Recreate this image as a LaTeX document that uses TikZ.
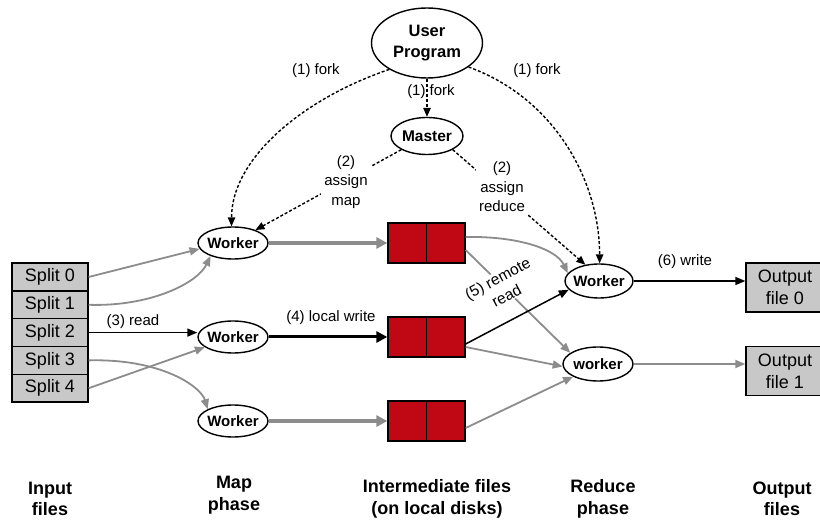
\documentclass[tikz,border=0pt]{standalone}
\usepackage{fontspec}
\setmainfont{Liberation Sans}
\usetikzlibrary{arrows.meta,shapes.geometric}
\definecolor{lgray}{RGB}{140,140,140}
\definecolor{boxgray}{RGB}{200,200,200}
\definecolor{diskred}{RGB}{192,8,20}
\begin{document}
\begin{tikzpicture}[x=1pt,y=-1pt,
  lbl/.style={font=\fontsize{15}{19.5}\selectfont, align=center, inner sep=1pt},
  wlbl/.style={lbl, fill=white, inner sep=3pt},
  proc/.style={ellipse, draw, line width=1.4pt, minimum width=70pt, minimum height=32pt,
    inner sep=0pt, font=\bfseries\fontsize{15}{18}\selectfont},
  splitbox/.style={rectangle, draw, line width=1.3pt, fill=boxgray, minimum width=76pt,
    minimum height=27.8pt, inner sep=0pt, font=\fontsize{18}{20}\selectfont},
  outbox/.style={rectangle, draw, line width=1.3pt, fill=boxgray, minimum width=78pt,
    minimum height=49pt, inner sep=0pt, align=center, font=\fontsize{18}{22}\selectfont},
  disk/.style={rectangle, draw, line width=1.3pt, fill=diskred, minimum width=77pt,
    minimum height=40pt, inner sep=0pt},
  phase/.style={align=center, font=\bfseries\fontsize{18}{21.5}\selectfont},
  garrow/.style={draw=lgray, line width=1.8pt, -{Triangle[length=10pt,width=8pt]}},
  barrow/.style={draw=black, line width=1.5pt, -{Triangle[length=10pt,width=8pt]}},
  thickg/.style={draw=lgray, line width=3.5pt, -{Triangle[length=11pt,width=11pt]}},
  thickb/.style={draw=black, line width=3pt, -{Triangle[length=11pt,width=11pt]}},
  dasharrow/.style={draw=black, line width=1.4pt, dash pattern=on 3pt off 2pt,
    -{Triangle[length=9pt,width=7.5pt]}}
]
\useasboundingbox (0,0) rectangle (820,521);
\clip (0,0) rectangle (820,521);

% top
\node[proc, minimum width=111pt, minimum height=70pt, align=center,
  font=\bfseries\fontsize{16.5}{21}\selectfont] (up) at (427,43) {User\\Program};
\node[proc, minimum width=72pt, minimum height=37pt,
  font=\bfseries\fontsize{15.5}{18}\selectfont] (m) at (427,136) {Master};

% input splits
\node[splitbox] (s0) at (50,277) {Split 0};
\node[splitbox] (s1) at (50,304.8) {Split 1};
\node[splitbox] (s2) at (50,332.6) {Split 2};
\node[splitbox] (s3) at (50,360.4) {Split 3};
\node[splitbox] (s4) at (50,388.2) {Split 4};

% map workers
\node[proc] (w1) at (233,243) {\makebox[0pt]{Worker}};
\node[proc] (w2) at (233,337) {\makebox[0pt]{Worker}};
\node[proc] (w3) at (233,421) {\makebox[0pt]{Worker}};

% intermediate files
\node[disk] (d1) at (426.5,243) {};
\node[disk] (d2) at (426.5,337) {};
\node[disk] (d3) at (426.5,421) {};
\draw[line width=1.3pt] (d1.north) -- (d1.south);
\draw[line width=1.3pt] (d2.north) -- (d2.south);
\draw[line width=1.3pt] (d3.north) -- (d3.south);

% reduce workers
\node[proc, minimum width=68pt, minimum height=34pt] (r1) at (599,281) {\makebox[0pt]{Worker}};
\node[proc, minimum width=70pt, minimum height=34pt] (r2) at (598,364) {\makebox[0pt]{worker}};

% output files
\node[outbox] (o0) at (785,287.5) {Output\\file 0};
\node[outbox] (o1) at (785,371) {Output\\file 1};

% fork / assign
\draw[dasharrow] (up.south) -- (m.north);
\draw[dasharrow] (up.215) .. controls +(-88,30) and +(0,-67) .. (w1.95);
\draw[dasharrow] (up.330) .. controls +(88,32) and +(0,-80) .. (r1.88);
\draw[dasharrow] (m.208) -- (w1.30);
\draw[dasharrow] (m.332) -- (r1.130);

% input to map
\draw[garrow] (s0.east) -- (w1.190);
\draw[garrow] (s1.east) .. controls +(62,2) and +(-13,27) .. (w1.210);
\draw[barrow] (s2.east) -- (s2.east -| w2.west);
\draw[garrow] (s3.east) .. controls +(72,-2) and +(-7,-23) .. (w3.155);
\draw[garrow] (s4.east) -- (w2.200);

% map to disk
\draw[thickg] (w1.east) -- (d1.west);
\draw[thickb] (w2.east) -- (d2.west);
\draw[thickg] (w3.east) -- (d3.west);

% disk to reduce
\draw[garrow] ([yshift=6pt]d1.east) .. controls +(50,-1) and +(-12,-25) .. (r1.166);
\draw[garrow] ([yshift=-7pt]d1.east) -- (r2.158);
\draw[garrow] ([yshift=-10pt]d2.east) -- (r2.184);
\draw[garrow] ([yshift=-7pt]d3.east) -- (r2.207);

% reduce to output
\draw[barrow] (r1.east) -- (r1.east -| o0.west);
\draw[garrow] (r2.east) -- (r2.east -| o1.west);

% labels
\node[lbl] (lf1) at (316,71) {(1) fork};
\node[lbl] (lf2) at (537,71) {(1) fork};
\node[lbl] (lf3) at (431,92) {(1) fork};
\node[wlbl] (la1) at (346,182) {(2)\\assign\\map};
\node[wlbl] (la2) at (502,187) {(2)\\assign\\reduce};
\node[lbl] (lr) at (133,322) {(3) read};
\node[lbl] (lw) at (331,318) {(4) local write};
\node[wlbl, rotate=28, inner sep=1pt, font=\fontsize{15.5}{19}\selectfont] (lrr) at (502,287) {(5) remote\\read};
\node[lbl] (l6) at (685,262) {(6) write};

% black remote read drawn over the label
\draw[barrow] ([yshift=-7pt]d2.east) -- (r1.196);

% phases
\node[phase] (p1) at (50,499) {Input\\files};
\node[phase] (p2) at (234,495) {Map\\phase};
\node[phase] (p3) at (437,499) {Intermediate files\\(on local disks)};
\node[phase] (p4) at (603,499) {Reduce\\phase};
\node[phase] (p5) at (782,499) {Output\\files};
\end{tikzpicture}
\end{document}
